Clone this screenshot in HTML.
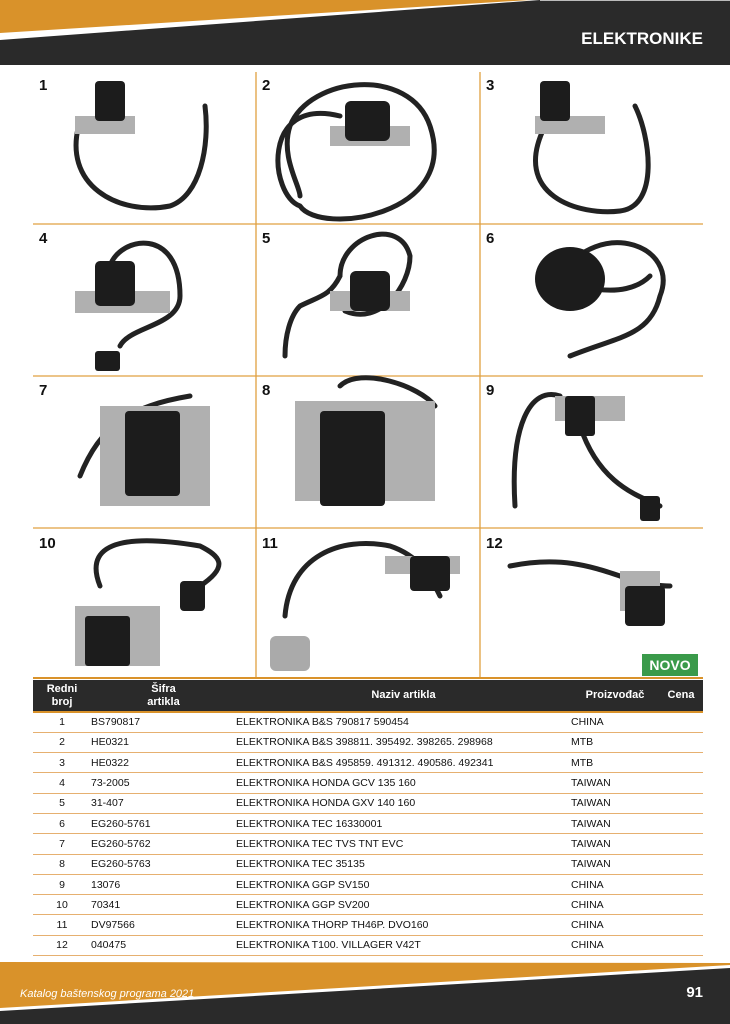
<!DOCTYPE html>
<html><head><meta charset="utf-8"><style>
*{margin:0;padding:0;box-sizing:border-box}
body{width:730px;height:1024px;position:relative;background:#fff;font-family:"Liberation Sans",sans-serif;overflow:hidden}
.abs{position:absolute}
.num{position:absolute;font-weight:bold;font-size:15px;color:#111}
table{position:absolute;left:33px;top:680px;width:670px;border-collapse:collapse;font-size:10.5px;color:#111}
th{background:#2a2a2a;color:#fff;font-size:11px;font-weight:bold;height:32px;line-height:13px;border-bottom:2px solid #d9922a}
td{height:20.3px;border-bottom:1.5px solid #e6b070;padding:0}
</style></head><body>
<svg class="abs" style="left:0;top:0" width="730" height="70">
<polygon points="0,0 530,0 0,33" fill="#d9922a"/>
<polygon points="0,40 540,0 730,0 730,65 0,65" fill="#2a2a2a"/>
<line x1="540" y1="0.5" x2="730" y2="0.5" stroke="#bbb"/>
<text x="703" y="44" text-anchor="end" fill="#fff" font-family="Liberation Sans" font-weight="bold" font-size="17">ELEKTRONIKE</text>
</svg>
<svg class="abs" style="left:0;top:66" width="730" height="614">
<g stroke="#e0a040" stroke-width="1.3">
<line x1="256" y1="6" x2="256" y2="612"/><line x1="480" y1="6" x2="480" y2="612"/>
<line x1="33" y1="158" x2="703" y2="158"/><line x1="33" y1="310" x2="703" y2="310"/><line x1="33" y1="462" x2="703" y2="462"/>
</g>
<line x1="33" y1="612" x2="703" y2="612" stroke="#d9922a" stroke-width="2"/>
<g fill="none" stroke="#222" stroke-width="5" stroke-linecap="round">
<path d="M80,55 C60,120 120,150 170,140 C200,130 210,80 205,40"/>
<path d="M340,50 C260,30 270,130 300,140 M300,140 C320,170 460,150 430,60 C410,0 310,10 290,60 C280,90 300,120 300,130"/>
<path d="M545,60 C510,130 580,150 620,145 C660,140 650,70 635,40"/>
<path d="M110,200 C120,170 180,160 180,230 C180,260 130,260 120,280"/>
<path d="M345,245 C380,260 410,220 410,190 C400,150 340,170 340,210 C330,230 320,230 300,240 C290,250 285,270 285,290"/>
<path d="M560,210 C600,150 680,180 660,230 C650,270 620,270 570,290 M580,220 C620,230 640,220 650,210"/>
<path d="M190,330 C130,340 100,360 80,410"/>
<path d="M340,320 C360,300 420,320 435,340"/>
<path d="M560,330 C530,320 510,360 515,440 M580,360 C600,420 640,430 660,440"/>
<path d="M100,520 C80,470 140,470 200,480 C220,490 230,500 200,520"/>
<path d="M285,550 C290,490 340,470 390,480 C420,490 430,510 440,530"/>
<path d="M510,500 C560,490 590,500 620,510 C640,520 670,520 670,520"/>
</g>
<g fill="#b0b0b0">
<rect x="75" y="50" width="60" height="18"/><rect x="330" y="60" width="80" height="20"/><rect x="535" y="50" width="70" height="18"/>
<rect x="75" y="225" width="95" height="22"/><rect x="330" y="225" width="80" height="20"/><rect x="100" y="340" width="110" height="100"/>
<rect x="295" y="335" width="140" height="100"/><rect x="555" y="330" width="70" height="25"/><rect x="75" y="540" width="85" height="60"/>
<rect x="385" y="490" width="75" height="18"/><rect x="620" y="505" width="40" height="40"/>
</g>
<g fill="#1c1c1c">
<rect x="95" y="15" width="30" height="40" rx="4"/><rect x="345" y="35" width="45" height="40" rx="6"/><rect x="540" y="15" width="30" height="40" rx="4"/>
<rect x="95" y="195" width="40" height="45" rx="5"/><rect x="350" y="205" width="40" height="40" rx="6"/><ellipse cx="570" cy="213" rx="35" ry="32"/>
<rect x="125" y="345" width="55" height="85" rx="4"/><rect x="320" y="345" width="65" height="95" rx="4"/><rect x="565" y="330" width="30" height="40" rx="3"/>
<rect x="85" y="550" width="45" height="50" rx="3"/><rect x="410" y="490" width="40" height="35" rx="4"/><rect x="625" y="520" width="40" height="40" rx="4"/>
<rect x="95" y="285" width="25" height="20" rx="3"/><rect x="180" y="515" width="25" height="30" rx="4"/><rect x="640" y="430" width="20" height="25" rx="3"/>
</g>
<rect x="270" y="570" width="40" height="35" rx="6" fill="#aaa"/>
<rect x="642" y="588" width="56" height="22" fill="#3a9a4a"/>
<text x="670" y="604" text-anchor="middle" fill="#fff" font-family="Liberation Sans" font-weight="bold" font-size="14">NOVO</text>
</svg>
<div class="num" style="left:39px;top:77px">1</div><div class="num" style="left:262px;top:77px">2</div><div class="num" style="left:486px;top:77px">3</div>
<div class="num" style="left:39px;top:230px">4</div><div class="num" style="left:262px;top:230px">5</div><div class="num" style="left:486px;top:230px">6</div>
<div class="num" style="left:39px;top:382px">7</div><div class="num" style="left:262px;top:382px">8</div><div class="num" style="left:486px;top:382px">9</div>
<div class="num" style="left:39px;top:535px">10</div><div class="num" style="left:262px;top:535px">11</div><div class="num" style="left:486px;top:535px">12</div>
<table>
<colgroup><col style="width:58px"><col style="width:145px"><col style="width:335px"><col style="width:88px"><col style="width:44px"></colgroup>
<tr><th>Redni<br>broj</th><th>Šifra<br>artikla</th><th>Naziv artikla</th><th>Proizvođač</th><th>Cena</th></tr>
<tr><td style="text-align:center">1</td><td>BS790817</td><td>ELEKTRONIKA B&amp;S 790817 590454</td><td>CHINA</td><td></td></tr>
<tr><td style="text-align:center">2</td><td>HE0321</td><td>ELEKTRONIKA B&amp;S 398811. 395492. 398265. 298968</td><td>MTB</td><td></td></tr>
<tr><td style="text-align:center">3</td><td>HE0322</td><td>ELEKTRONIKA B&amp;S 495859. 491312. 490586. 492341</td><td>MTB</td><td></td></tr>
<tr><td style="text-align:center">4</td><td>73-2005</td><td>ELEKTRONIKA HONDA GCV 135 160</td><td>TAIWAN</td><td></td></tr>
<tr><td style="text-align:center">5</td><td>31-407</td><td>ELEKTRONIKA HONDA GXV 140 160</td><td>TAIWAN</td><td></td></tr>
<tr><td style="text-align:center">6</td><td>EG260-5761</td><td>ELEKTRONIKA TEC 16330001</td><td>TAIWAN</td><td></td></tr>
<tr><td style="text-align:center">7</td><td>EG260-5762</td><td>ELEKTRONIKA TEC TVS TNT EVC</td><td>TAIWAN</td><td></td></tr>
<tr><td style="text-align:center">8</td><td>EG260-5763</td><td>ELEKTRONIKA TEC 35135</td><td>TAIWAN</td><td></td></tr>
<tr><td style="text-align:center">9</td><td>13076</td><td>ELEKTRONIKA GGP SV150</td><td>CHINA</td><td></td></tr>
<tr><td style="text-align:center">10</td><td>70341</td><td>ELEKTRONIKA GGP SV200</td><td>CHINA</td><td></td></tr>
<tr><td style="text-align:center">11</td><td>DV97566</td><td>ELEKTRONIKA THORP TH46P. DVO160</td><td>CHINA</td><td></td></tr>
<tr><td style="text-align:center">12</td><td>040475</td><td>ELEKTRONIKA T100. VILLAGER V42T</td><td>CHINA</td><td></td></tr>
</table>
<svg class="abs" style="left:0;top:955" width="730" height="69">
<polygon points="0,7 730,8 730,10 0,53" fill="#d9922a"/>
<polygon points="0,56 730,13 730,69 0,69" fill="#2a2a2a"/>
<text x="20" y="42" fill="#fff" font-family="Liberation Sans" font-style="italic" font-size="11">Katalog baštenskog programa 2021</text>
<text x="703" y="42" text-anchor="end" fill="#fff" font-family="Liberation Sans" font-weight="bold" font-size="15">91</text>
</svg>
</body></html>
